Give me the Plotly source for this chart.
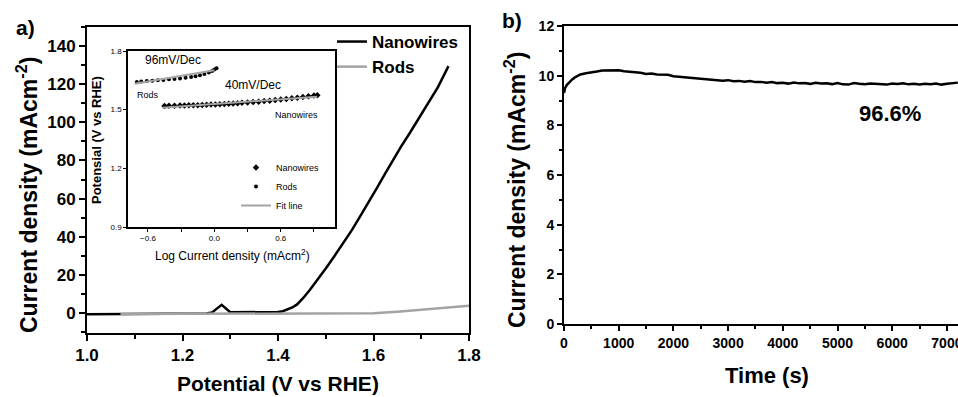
import plotly.graph_objects as go

# ---------------- data ----------------
# Panel a: LSV curves
nw_potential = [1.00, 1.07, 1.10, 1.20, 1.25, 1.262, 1.282, 1.30, 1.35, 1.40, 1.41, 1.42, 1.43,
                1.44, 1.452, 1.467, 1.483, 1.50, 1.518, 1.537, 1.555, 1.572, 1.59, 1.607, 1.624,
                1.641, 1.658, 1.676, 1.693, 1.711, 1.735, 1.757]
nw_current = [-0.6, -0.6, -0.4, -0.4, -0.3, 0.3, 4.3, 0.4, 0.4, 0.5, 0.9, 1.7, 2.9,
              4.5, 7.6, 12.2, 17.5, 23.3, 29.8, 36.7, 43.6, 50.7, 58.0, 65.5, 73.0,
              80.4, 87.4, 94.4, 101.3, 108.3, 118.5, 129.5]
rod_potential = [1.07, 1.20, 1.40, 1.55, 1.60, 1.65, 1.70, 1.75, 1.80]
rod_current = [-0.5, -0.5, -0.5, -0.4, -0.2, 0.6, 1.6, 2.6, 3.8]

# Inset: Tafel plots
rod_logj = [-0.70, -0.66, -0.61, -0.56, -0.51, -0.46, -0.41, -0.36, -0.31, -0.26, -0.21,
            -0.17, -0.13, -0.09, -0.05, -0.02, 0.0, 0.02]
rod_pot = [1.642, 1.644, 1.646, 1.648, 1.650, 1.652, 1.655, 1.657, 1.660, 1.663, 1.667,
           1.671, 1.676, 1.682, 1.690, 1.698, 1.705, 1.712]
rod_fit_x = [-0.72, 0.0]
rod_fit_y = [1.632, 1.701]
nw_logj = [-0.45, -0.41, -0.36, -0.31, -0.27, -0.23, -0.19, -0.15, -0.11, -0.07, -0.03, 0.01,
           0.05, 0.09, 0.13, 0.17, 0.21, 0.25, 0.30, 0.35, 0.40, 0.45, 0.50, 0.55, 0.60, 0.65,
           0.70, 0.75, 0.80, 0.85, 0.90, 0.93]
nw_pot = [1.519, 1.520, 1.520, 1.521, 1.521, 1.522, 1.523, 1.523, 1.524, 1.525, 1.526, 1.527,
          1.528, 1.529, 1.530, 1.532, 1.533, 1.535, 1.537, 1.539, 1.541, 1.544, 1.546, 1.549,
          1.552, 1.555, 1.558, 1.561, 1.565, 1.568, 1.572, 1.574]
nw_fit_x = [-0.47, 0.93]
nw_fit_y = [1.510, 1.566]

# Panel b: chronoamperometry
time_s = [0, 20, 50, 100, 150, 200, 300, 400, 500, 600, 700, 800, 900, 1000, 1100, 1200, 1300,
          1400, 1500, 1600, 1700, 1800, 1900, 2000, 2100, 2200, 2300, 2400, 2500, 2600, 2700,
          2800, 2900, 3000, 3100, 3200, 3300, 3400, 3500, 3600, 3700, 3800, 3900, 4000, 4100,
          4200, 4300, 4400, 4500, 4600, 4700, 4800, 4900, 5000, 5100, 5200, 5300, 5400, 5500,
          5600, 5700, 5800, 5900, 6000, 6100, 6200, 6300, 6400, 6500, 6600, 6700, 6800, 6900,
          7000, 7100, 7200]
current_b = [9.30, 9.50, 9.62, 9.75, 9.85, 9.93, 10.05, 10.10, 10.15, 10.17, 10.21, 10.22, 10.20,
             10.22, 10.18, 10.16, 10.13, 10.12, 10.07, 10.09, 10.05, 10.03, 10.04, 9.98, 9.96,
             9.95, 9.91, 9.90, 9.86, 9.87, 9.84, 9.83, 9.80, 9.82, 9.78, 9.79, 9.76, 9.78, 9.74,
             9.75, 9.72, 9.74, 9.70, 9.71, 9.68, 9.72, 9.69, 9.70, 9.67, 9.71, 9.68, 9.69, 9.66,
             9.70, 9.65, 9.64, 9.70, 9.67, 9.65, 9.68, 9.66, 9.67, 9.64, 9.68, 9.66, 9.69, 9.65,
             9.67, 9.64, 9.67, 9.65, 9.68, 9.64, 9.67, 9.70, 9.72]

# ---------------- figure ----------------
W, H = 958, 397
FONT = "Liberation Sans, Arial, sans-serif"
GRAY = "#a3a3a3"

def px(x):
    return x / W

def py(y):
    return 1 - y / H

fig = go.Figure()

# panel a
fig.add_trace(go.Scatter(x=nw_potential, y=nw_current, mode="lines", name="Nanowires",
                         line=dict(color="black", width=2.5), xaxis="x", yaxis="y", legend="legend"))
fig.add_trace(go.Scatter(x=rod_potential, y=rod_current, mode="lines", name="Rods",
                         line=dict(color=GRAY, width=2.5), xaxis="x", yaxis="y", legend="legend"))

# inset
fig.add_trace(go.Scatter(x=nw_logj, y=nw_pot, mode="markers", name="Nanowires",
                         marker=dict(color="black", size=5, symbol="diamond"),
                         xaxis="x3", yaxis="y3", legend="legend2"))
fig.add_trace(go.Scatter(x=rod_logj, y=rod_pot, mode="markers", name="Rods",
                         marker=dict(color="black", size=4, symbol="circle"),
                         xaxis="x3", yaxis="y3", legend="legend2"))
fig.add_trace(go.Scatter(x=nw_fit_x, y=nw_fit_y, mode="lines", name="Fit line",
                         line=dict(color=GRAY, width=2), xaxis="x3", yaxis="y3",
                         legend="legend2", legendgroup="fit"))
fig.add_trace(go.Scatter(x=rod_fit_x, y=rod_fit_y, mode="lines", name="Fit line",
                         line=dict(color=GRAY, width=2), xaxis="x3", yaxis="y3",
                         legend="legend2", legendgroup="fit", showlegend=False))

# panel b
fig.add_trace(go.Scatter(x=time_s, y=current_b, mode="lines", showlegend=False,
                         line=dict(color="black", width=2.5), xaxis="x2", yaxis="y2"))

axis_common = dict(showline=True, linecolor="black", linewidth=2, ticks="outside",
                   tickcolor="black", showgrid=False, zeroline=False, automargin=False)

big_tick = dict(family=FONT, size=17, color="black", weight="bold")
mid_tick = dict(family=FONT, size=14, color="black", weight="bold")
small_tick = dict(family=FONT, size=8, color="black")

fig.update_layout(
    width=W, height=H,
    margin=dict(l=0, r=0, t=0, b=0, autoexpand=False),
    paper_bgcolor="white", plot_bgcolor="white",
    xaxis=dict(domain=[px(87), px(469)], range=[1.0, 1.8], dtick=0.2, tick0=1.0,
               tickformat=".1f", ticklen=6, tickwidth=2, mirror=True, tickfont=big_tick,
               minor=dict(dtick=0.1, ticklen=4, tickwidth=1.5, ticks="outside", tickcolor="black"),
               anchor="y", **axis_common),
    yaxis=dict(domain=[py(333), py(27)], range=[-10.5, 150], dtick=20, tick0=0,
               ticklen=6, tickwidth=2, mirror=True, tickfont=big_tick,
               minor=dict(dtick=10, ticklen=4, tickwidth=1.5, ticks="outside", tickcolor="black"),
               anchor="x", **axis_common),
    xaxis2=dict(domain=[px(564), 1.0], range=[0, 7203], dtick=1000, tick0=0,
                ticklen=5, tickwidth=2, mirror=True, tickfont=mid_tick,
                ticklabeloverflow="allow",
                minor=dict(dtick=500, ticklen=3, tickwidth=1.5, ticks="outside", tickcolor="black"),
                anchor="y2", **axis_common),
    yaxis2=dict(domain=[py(324), py(26)], range=[0, 12], dtick=2, tick0=0,
                ticklen=5, tickwidth=2, mirror=False, tickfont=mid_tick,
                minor=dict(dtick=1, ticklen=3, tickwidth=1.5, ticks="outside", tickcolor="black"),
                anchor="x2", **axis_common),
    xaxis3=dict(domain=[px(128), px(335)], range=[-0.78, 1.09], dtick=0.6, tick0=-0.6,
                tickformat=".1f", ticklen=3, tickwidth=1, mirror=True, tickfont=small_tick,
                minor=dict(dtick=0.3, ticklen=3, tickwidth=1, ticks="outside", tickcolor="black"),
                anchor="y3", showline=True, linecolor="black", linewidth=1.5, ticks="outside",
                tickcolor="black", showgrid=False, zeroline=False, automargin=False),
    yaxis3=dict(domain=[py(227), py(51)], range=[0.9, 1.8], dtick=0.3, tick0=0.9,
                tickformat=".1f", ticklen=3, tickwidth=1, mirror=True, tickfont=small_tick,
                anchor="x3", showline=True, linecolor="black", linewidth=1.5, ticks="outside",
                tickcolor="black", showgrid=False, zeroline=False, automargin=False),
    legend=dict(x=px(332), y=py(24), xanchor="left", yanchor="top",
                font=dict(family=FONT, size=17, color="black", weight="bold"),
                bgcolor="rgba(0,0,0,0)", itemwidth=30, tracegroupgap=0),
    legend2=dict(x=px(236), y=py(153), xanchor="left", yanchor="top",
                 font=dict(family=FONT, size=9, color="black"),
                 bgcolor="rgba(0,0,0,0)", itemwidth=30, tracegroupgap=0, traceorder="normal"),
    showlegend=True,
)

def label(text, x, y, size, angle=0, xref="paper", yref="paper"):
    if xref == "paper":
        x = px(x)
    if yref == "paper":
        y = py(y)
    return dict(text=text, x=x, y=y, xref=xref, yref=yref, xanchor="center", yanchor="middle",
                textangle=angle, showarrow=False, font=dict(family=FONT, size=size, color="black"))

ann = [
    # panel labels
    label("<b>a)</b>", 25, 27, 21),
    label("<b>b)</b>", 512, 21, 21),
    # axis titles
    label("<b>Potential (V vs RHE)</b>", 278, 383, 21),
    label("<b>Current density (mAcm<sup>-2</sup>)</b>", 27, 195, 23, angle=-90),
    label("<b>Time (s)</b>", 767, 375, 22),
    label("<b>Current density (mAcm<sup>-2</sup>)</b>", 515, 190, 23, angle=-90),
    label("<b>96.6%</b>", 890, 113, 22),
    # inset titles
    label("Log Current density (mAcm<sup>2</sup>)", 232, 255, 12),
    label("<b>Potensial (V vs RHE)</b>", 97, 140, 13, angle=-90),
    # inset labels
    label("96mV/Dec", -0.374, 1.754, 12, xref="x3", yref="y3"),
    label("40mV/Dec", 0.347, 1.626, 12, xref="x3", yref="y3"),
    label("Rods", -0.6, 1.575, 9, xref="x3", yref="y3"),
    label("Nanowires", 0.744, 1.473, 9, xref="x3", yref="y3"),
]
fig.update_layout(annotations=ann)

fig.write_html("out.html", config={"displayModeBar": False},
               post_script="document.body.style.margin='0';document.body.style.overflow='hidden';")
